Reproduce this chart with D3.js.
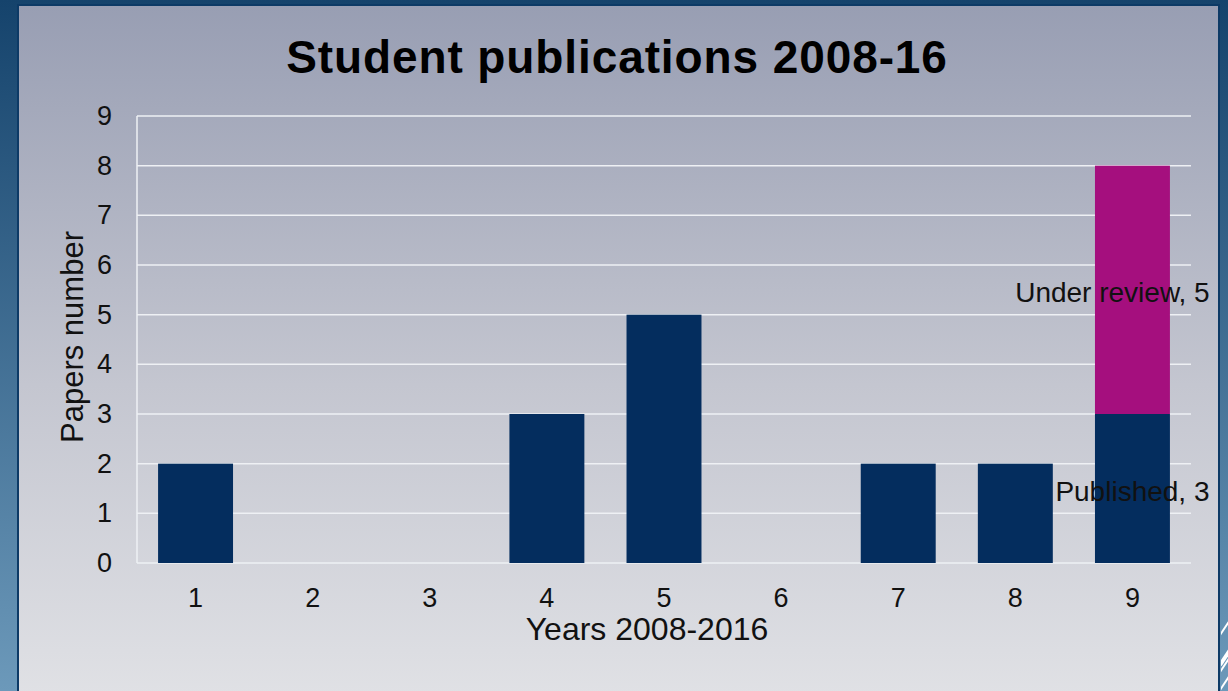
<!DOCTYPE html>
<html>
<head>
<meta charset="utf-8">
<script src="https://cdn.jsdelivr.net/npm/d3@7"></script>
<style>
  html, body { margin: 0; padding: 0; overflow: hidden; }
  svg { display: block; font-family: "Liberation Sans", sans-serif; }
</style>
</head>
<body>
<svg id="chart" width="1228" height="691"></svg>
<script>
// chart values
const years = ['1', '2', '3', '4', '5', '6', '7', '8', '9'];
const published = [2, 0, 0, 3, 5, 0, 2, 2, 3];
const underReview = [0, 0, 0, 0, 0, 0, 0, 0, 5];
const yTicks = [0, 1, 2, 3, 4, 5, 6, 7, 8, 9];
const seriesNames = ['Published', 'Under review'];
const seriesColors = ['#042d5e', '#a50f7e'];

const W = 1228, H = 691;
const plot = {left: 137, right: 1191, top: 116, bottom: 563};
const font = '"Liberation Sans", sans-serif';

const svg = d3.select('#chart');
const defs = svg.append('defs');

const outerGrad = defs.append('linearGradient')
    .attr('id', 'outerGrad').attr('x1', 0).attr('y1', 0).attr('x2', 0).attr('y2', 1);
outerGrad.append('stop').attr('offset', '0%').attr('stop-color', '#15436c');
outerGrad.append('stop').attr('offset', '100%').attr('stop-color', '#6c99ba');

const panelGrad = defs.append('linearGradient')
    .attr('id', 'panelGrad').attr('x1', 0).attr('y1', 0).attr('x2', 0).attr('y2', 1);
panelGrad.append('stop').attr('offset', '0%').attr('stop-color', '#989eb3');
panelGrad.append('stop').attr('offset', '55%').attr('stop-color', '#c4c6d0');
panelGrad.append('stop').attr('offset', '100%').attr('stop-color', '#e0e1e5');

// slide background + panel
svg.append('rect').attr('width', W).attr('height', H).attr('fill', 'url(#outerGrad)');
svg.append('rect')
    .attr('x', 18).attr('y', 5).attr('width', 1201).attr('height', H)
    .attr('fill', 'url(#panelGrad)')
    .attr('stroke', '#0d3a66').attr('stroke-width', 2);

// little white stripes at the bottom right corner
defs.append('clipPath').attr('id', 'cornerClip')
    .append('rect').attr('x', 1221).attr('y', 600).attr('width', 7).attr('height', 91);
svg.append('g')
    .attr('clip-path', 'url(#cornerClip)')
    .selectAll('line')
    .data([625, 655, 662, 680])
    .enter()
    .append('line')
    .attr('x1', 1220).attr('x2', 1232)
    .attr('y1', d => d + 10).attr('y2', d => d - 8)
    .attr('stroke', '#ffffff')
    .attr('stroke-width', (d, i) => i === 1 ? 4 : 2);

const x = d3.scaleBand()
    .domain(years)
    .range([plot.left, plot.right])
    .paddingInner(0.36)
    .paddingOuter(0.18);

const y = d3.scaleLinear()
    .domain([0, 9])
    .range([plot.bottom, plot.top]);

// gridlines
svg.append('g')
    .selectAll('line')
    .data(yTicks)
    .enter()
    .append('line')
    .attr('x1', plot.left).attr('x2', plot.right)
    .attr('y1', d => y(d)).attr('y2', d => y(d))
    .attr('stroke', '#eef0f4').attr('stroke-width', 1.5);

svg.append('line')
    .attr('x1', plot.left).attr('x2', plot.left)
    .attr('y1', plot.top).attr('y2', plot.bottom)
    .attr('stroke', '#eef0f4').attr('stroke-width', 1.5);

// y axis labels
const yAxis = svg.append('g')
    .attr('transform', `translate(${plot.left - 25},0)`)
    .call(d3.axisLeft(y).tickValues(yTicks).tickSize(0).tickPadding(0));
yAxis.select('.domain').remove();
yAxis.selectAll('text')
    .attr('font-size', 27).attr('font-family', font)
    .attr('fill', '#111');

// x axis labels
const xAxis = svg.append('g')
    .attr('transform', `translate(0,${plot.bottom + 25})`)
    .call(d3.axisBottom(x).tickSize(0).tickPadding(0));
xAxis.select('.domain').remove();
xAxis.selectAll('text')
    .attr('font-size', 27).attr('font-family', font)
    .attr('fill', '#111');

// stacked bars
const rows = years.map((yr, i) => ({year: yr, Published: published[i], 'Under review': underReview[i]}));
const stacked = d3.stack().keys(seriesNames)(rows);

svg.append('g')
    .selectAll('g')
    .data(stacked)
    .enter()
    .append('g')
    .attr('fill', (d, i) => seriesColors[i])
    .selectAll('rect')
    .data(d => d.filter(s => s[1] > s[0]))
    .enter()
    .append('rect')
    .attr('x', d => x(d.data.year))
    .attr('width', x.bandwidth())
    .attr('y', d => y(d[1]))
    .attr('height', d => y(d[0]) - y(d[1]));

// data labels on last column
const last = years.length - 1;
const labelOffsets = [0, -20];
svg.append('g')
    .selectAll('text')
    .data(stacked)
    .enter()
    .append('text')
    .attr('x', (d, i) => x(years[last]) + x.bandwidth() / 2 + labelOffsets[i])
    .attr('y', d => y((d[last][0] + d[last][1]) / 2) + 12)
    .attr('text-anchor', 'middle')
    .attr('font-size', 28)
    .attr('fill', '#111')
    .text(d => `${d.key}, ${d[last][1] - d[last][0]}`);

// titles
svg.append('text')
    .attr('x', 617).attr('y', 73)
    .attr('text-anchor', 'middle')
    .attr('font-size', 46).attr('font-weight', 'bold')
    .attr('letter-spacing', 0.9)
    .attr('fill', '#000')
    .text('Student publications 2008-16');

svg.append('text')
    .attr('x', 647).attr('y', 640)
    .attr('text-anchor', 'middle')
    .attr('font-size', 32)
    .attr('fill', '#111')
    .text('Years 2008-2016');

svg.append('text')
    .attr('transform', 'translate(83,337) rotate(-90)')
    .attr('text-anchor', 'middle')
    .attr('font-size', 31)
    .attr('fill', '#111')
    .text('Papers number');
</script>
</body>
</html>
